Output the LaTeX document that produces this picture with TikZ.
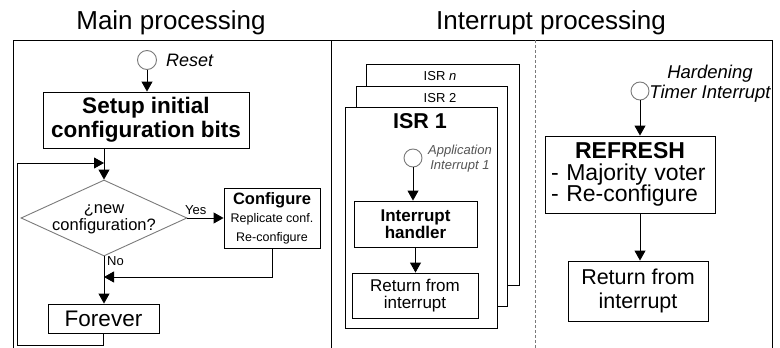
\documentclass[tikz,border=0pt]{standalone}
\usepackage{fontspec}
\setmainfont{Liberation Sans}
\usetikzlibrary{arrows.meta,shapes.geometric}
\definecolor{edgegray}{HTML}{7A7A7A}
\definecolor{txtgray}{HTML}{555555}
\newcommand{\myfs}[2]{\fontsize{#1}{#2}\selectfont}
\begin{document}
\begin{tikzpicture}[x=1pt,y=-1pt,
  box/.style={draw, line width=0.9pt, inner sep=0pt, align=center, fill=white},
  arr/.style={-{Triangle[length=10pt,width=11pt]}, line width=0.9pt},
  line/.style={line width=0.9pt},
  startc/.style={circle, draw=edgegray, line width=0.9pt, minimum size=19pt, inner sep=0pt},
  title/.style={font=\myfs{26}{30}, anchor=base},
  lbl/.style={font=\myfs{13}{15}, anchor=base west, inner sep=0pt}]
\useasboundingbox (0,0) rectangle (780,348);
% frame
\draw[line] (13,348) -- (13,40) -- (772,40) -- (772,348);
\draw[line] (331,40) -- (331,348);
\draw[line, edgegray, dash pattern=on 3pt off 2pt] (535,40) -- (535,348);

\node[title] (tmain) at (171,30) {Main processing};
\node[title] (tint) at (551,30) {Interrupt processing};

% main processing
\node[startc] (reset) at (147,60) {};
\node[font=\myfs{18}{20}\itshape, anchor=base west, inner sep=0pt] (resetl) at (166,66) {Reset};
\node[box, minimum width=206pt, minimum height=56pt, font=\myfs{22.5}{24}\bfseries] (setup) at (146,120) {Setup initial\\configuration bits};
\node[diamond, draw=edgegray, line width=0.9pt, aspect=2.18, minimum width=166pt, minimum height=76pt, inner sep=0pt] (dec) at (104,218) {};
\node[font=\myfs{16.5}{17}, align=center, inner sep=0pt] (dect) at (104,219) {¿new\\configuration?};
\node[box, minimum width=96pt, minimum height=60pt, font=\myfs{12.5}{18.5}] (conf) at (272,218) {{\bfseries\myfs{16.5}{19}Configure}\\Replicate conf.\\Re-configure};
\node[box, minimum width=111pt, minimum height=29pt, font=\myfs{22.5}{24}] (forever) at (103.5,318.5) {Forever};
\node[lbl] (yes) at (185,214) {Yes};
\node[lbl] (no) at (107,265) {No};

\coordinate (loopL) at (17,163);
\coordinate (retY) at (0,277);
\coordinate (botY) at (0,345);

\draw[arr] (reset.south) -- (reset.south |- setup.north);
\draw[arr] (dec.north |- setup.south) -- (dec.north);
\draw[arr] (dec.east) -- (conf.west);
\draw[arr] (conf.south) -- (conf.south |- retY) -- (dec.south |- retY);
\draw[arr] (dec.south) -- (dec.south |- forever.north);
\draw[arr] (forever.south) -- (forever.south |- botY) -| (loopL) -- (dec.north |- loopL);

% interrupt processing: ISR stack
\node[box, minimum width=153pt, minimum height=221pt] (isrn) at (442.5,174.5) {};
\node[font=\myfs{13}{15}, anchor=base] (isrnl) at (440,80) {ISR \textit{n}};
\node[box, minimum width=151pt, minimum height=220pt] (isr2) at (431.5,196) {};
\node[font=\myfs{13}{15}, anchor=base] (isr2l) at (440,102) {ISR 2};
\node[box, minimum width=152pt, minimum height=221pt] (isr1) at (421,217.5) {};
\node[font=\myfs{21.5}{24}\bfseries, anchor=base] (isr1l) at (420,128) {ISR 1};

\node[startc, minimum size=18pt] (app) at (413,158) {};
\node[font=\myfs{13}{15}\itshape, text=txtgray, align=center, inner sep=0pt] (appl) at (460,159) {Application\\Interrupt 1};
\node[box, minimum width=123pt, minimum height=46pt, font=\myfs{17}{17.5}\bfseries] (handler) at (415.5,224) {Interrupt\\handler};
\node[box, minimum width=126pt, minimum height=45pt, font=\myfs{17}{17.5}] (ret1) at (415,295.5) {Return from\\interrupt};
\draw[arr] (app.south) -- (app.south |- handler.north);
\draw[arr] (handler.south) -- (handler.south |- ret1.north);

% hardening timer interrupt
\node[startc, minimum size=18pt] (hard) at (640,91) {};
\node[font=\myfs{18.5}{20}\itshape, align=center, inner sep=0pt] (hardl) at (710,84) {Hardening\\Timer Interrupt};
\node[box, minimum width=170pt, minimum height=77pt, text width=158pt, align=left, font=\myfs{23}{21.5}] (refresh) at (630,174.5) {\hfil\textbf{REFRESH}\hfil\\- Majority voter\\- Re-configure};
\node[box, minimum width=140pt, minimum height=60pt, font=\myfs{21.5}{24}] (ret2) at (638,291) {Return from\\interrupt};
\draw[arr] (hard.south) -- (hard.south |- refresh.north);
\draw[arr] (hard.south |- refresh.south) -- (hard.south |- ret2.north);
\end{tikzpicture}
\end{document}
